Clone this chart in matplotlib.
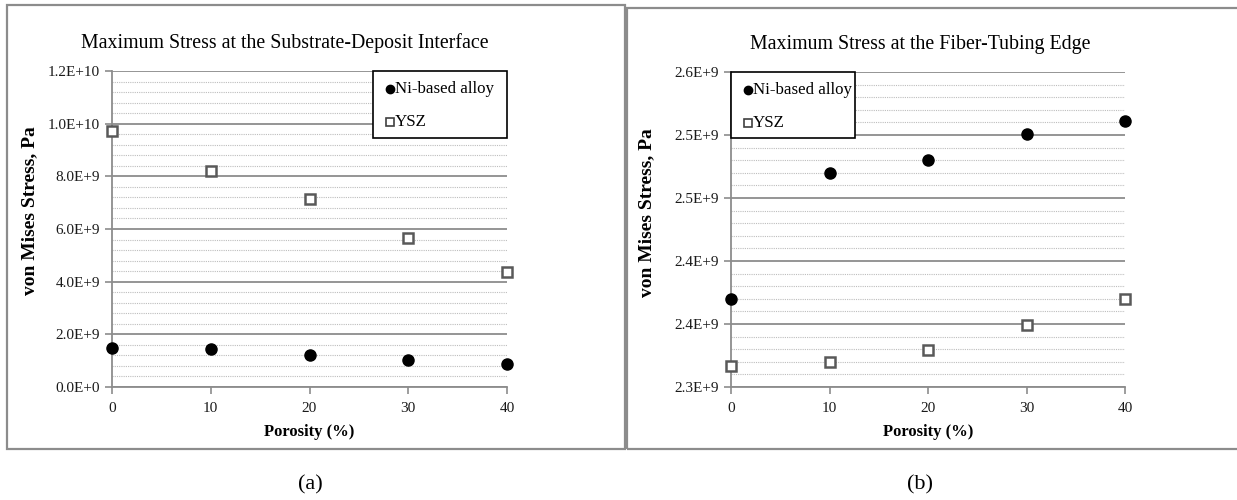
import matplotlib
matplotlib.use("Agg")
import numpy as np
import matplotlib.pyplot as plt
from matplotlib.ticker import FixedLocator, MultipleLocator, FuncFormatter
from matplotlib.patches import Rectangle
from matplotlib.lines import Line2D

porosity = [0, 10, 20, 30, 40]

# (a) substrate-deposit interface
ni_interface = [1.50e9, 1.43e9, 1.22e9, 1.04e9, 0.86e9]
ysz_interface = [9.73e9, 8.21e9, 7.13e9, 5.66e9, 4.37e9]

# (b) fiber-tubing edge
ni_edge = [2.384e9, 2.504e9, 2.5165e9, 2.5407e9, 2.5536e9]
ysz_edge = [2.320e9, 2.3238e9, 2.3352e9, 2.3593e9, 2.3835e9]

titles = ["Maximum Stress at the Substrate-Deposit Interface",
          "Maximum Stress at the Fiber-Tubing Edge"]
captions = ["(a)", "(b)"]
series_labels = ["Ni-based alloy", "YSZ"]

plt.rcParams["font.family"] = ["Liberation Serif", "DejaVu Serif"]

W, H = 1237, 500
fig = plt.figure(figsize=(W / 100, H / 100), dpi=100)


def fx(px):
    return px / W


def fy(py):
    return 1 - py / H


def sci_label(v, pos=None):
    # spreadsheet-style scientific label, e.g. 2.0E+9, 1.2E+10, 0.0E+0
    if v <= 0:
        return "0.0E+0"
    exp = int(np.floor(np.log10(v) + 1e-9))
    mant = v / 10 ** exp
    if round(mant, 1) >= 10:
        mant /= 10
        exp += 1
    return "%.1fE+%d" % (mant, exp)


# panel frames
fig.add_artist(Rectangle((fx(7), fy(449)), fx(618), fy(5) - fy(449),
                         transform=fig.transFigure, fill=False,
                         edgecolor="#8c8c8c", linewidth=1.6))
fig.add_artist(Rectangle((fx(627), fy(449)), fx(640), fy(8) - fy(449),
                         transform=fig.transFigure, fill=False,
                         edgecolor="#8c8c8c", linewidth=1.6))

panels = [
    dict(rect=(112, 71, 507, 387), ni=ni_interface, ysz=ysz_interface,
         ylim=(0, 1.2e10), n_major=6, n_minor=5,
         legend=(373, 71, 507, 138), title=(285, 43), ylab=(30, 211), cap_x=310),
    dict(rect=(731, 72, 1125, 387), ni=ni_edge, ysz=ysz_edge,
         ylim=(2.3e9, 2.6e9), n_major=5, n_minor=5,
         legend=(731, 72, 855, 138), title=(920, 44), ylab=(647, 213), cap_x=920),
]

for i, pnl in enumerate(panels):
    x0, y0, x1, y1 = pnl["rect"]
    ax = fig.add_axes([fx(x0), fy(y1), fx(x1 - x0), fy(y0) - fy(y1)])
    ax.set_xlim(0, 40)
    lo, hi = pnl["ylim"]
    ax.set_ylim(lo, hi)
    major = np.linspace(lo, hi, pnl["n_major"] + 1)
    minor = np.linspace(lo, hi, pnl["n_major"] * pnl["n_minor"] + 1)
    ax.yaxis.set_major_locator(FixedLocator(major))
    ax.yaxis.set_minor_locator(FixedLocator(minor))
    ax.xaxis.set_major_locator(MultipleLocator(10))
    ax.yaxis.set_major_formatter(FuncFormatter(sci_label))
    ax.grid(True, which="major", axis="y", color="#8c8c8c", linewidth=1.3)
    ax.grid(True, which="minor", axis="y", color="#bdbdbd", linewidth=0.8,
            linestyle=(0, (1, 1)))
    ax.set_axisbelow(True)
    for s in ("top", "right"):
        ax.spines[s].set_visible(False)
    for s in ("left", "bottom"):
        ax.spines[s].set_color("#8c8c8c")
        ax.spines[s].set_linewidth(1.3)
    ax.tick_params(axis="both", which="major", direction="out", length=5,
                   width=1.2, color="#8c8c8c", labelsize=11, labelcolor="#1a1a1a")
    ax.tick_params(axis="y", which="minor", length=0)
    ax.tick_params(axis="x", pad=6)

    ax.plot(porosity, pnl["ysz"], linestyle="none", marker="s", markersize=7,
            markerfacecolor="white", markeredgecolor="#595959",
            markeredgewidth=1.8, clip_on=False, zorder=4)
    ax.plot(porosity, pnl["ni"], linestyle="none", marker="o", markersize=8,
            markerfacecolor="black", markeredgecolor="black",
            clip_on=False, zorder=5)

    ax.set_xlabel("Porosity (%)", fontsize=12, fontweight="bold", labelpad=6)

    tx, ty = pnl["title"]
    fig.text(fx(tx), fy(ty), titles[i], ha="center", va="center", fontsize=14.3)
    lx, ly = pnl["ylab"]
    fig.text(fx(lx), fy(ly), "von Mises Stress, Pa", rotation=90,
             ha="center", va="center", fontsize=14, fontweight="bold")
    fig.text(fx(pnl["cap_x"]), fy(485), captions[i], ha="center", va="center",
             fontsize=16)

    # legend box
    bx0, by0, bx1, by1 = pnl["legend"]
    fig.add_artist(Rectangle((fx(bx0), fy(by1)), fx(bx1 - bx0), fy(by0) - fy(by1),
                             transform=fig.transFigure, facecolor="white",
                             edgecolor="black", linewidth=1.2, zorder=6))
    fig.add_artist(Line2D([fx(bx0 + 17)], [fy(by0 + 18)], transform=fig.transFigure,
                          marker="o", markersize=6, color="black",
                          linestyle="none", zorder=7))
    fig.text(fx(bx0 + 22), fy(by0 + 18), series_labels[0], ha="left",
             va="center", fontsize=12.2, zorder=7)
    fig.add_artist(Line2D([fx(bx0 + 17)], [fy(by0 + 51)], transform=fig.transFigure,
                          marker="s", markersize=6, markerfacecolor="white",
                          markeredgecolor="#404040", markeredgewidth=1.2,
                          linestyle="none", zorder=7))
    fig.text(fx(bx0 + 22), fy(by0 + 51), series_labels[1], ha="left",
             va="center", fontsize=12.2, zorder=7)

fig.savefig("out.png", dpi=100, facecolor="white")
